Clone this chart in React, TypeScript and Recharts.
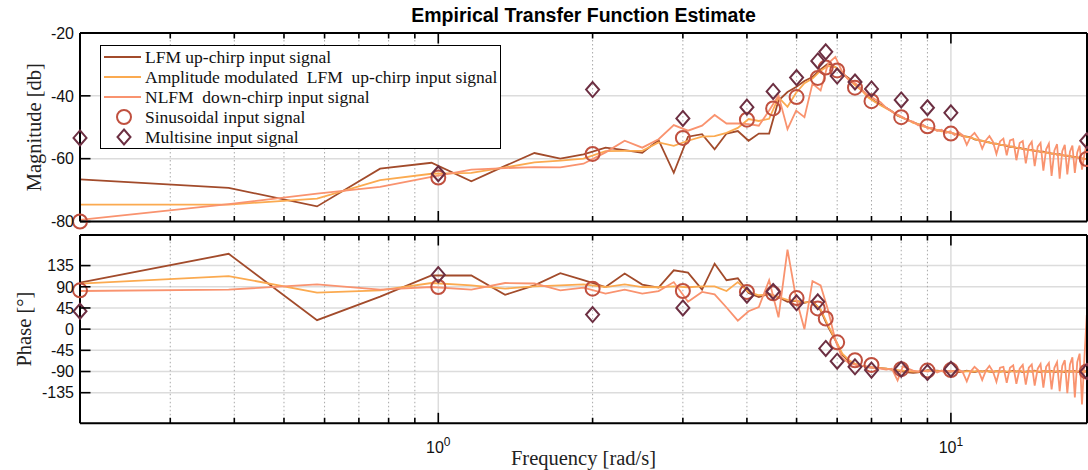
import React from "react";
import {
  ComposedChart,
  Line,
  Scatter,
  XAxis,
  YAxis,
  CartesianGrid,
  ReferenceLine,
  Legend,
} from "recharts";

// frequency grid of the chirp estimates [rad/s]
const freqGrid = [
  0.2, 0.39, 0.58, 0.77, 0.97, 1.16, 1.35, 1.54, 1.73, 1.92,
  2.12, 2.31, 2.5, 2.69, 2.88, 3.07, 3.27, 3.46, 3.65, 3.84,
  4.03, 4.22, 4.42, 4.61, 4.8, 4.99, 5.18, 5.37, 5.57, 5.76,
  5.95, 6.14, 6.33, 6.52, 6.72, 6.91, 7.1, 7.29, 7.48, 7.67,
  7.87, 8.06, 8.25, 8.44, 8.63, 8.82, 9.02, 9.21, 9.4, 9.59,
  9.78, 9.97, 10.17, 10.36, 10.55, 10.74, 10.93, 11.12, 11.32, 11.51,
  11.7, 11.89, 12.08, 12.27, 12.47, 12.66, 12.85, 13.04, 13.23, 13.42,
  13.62, 13.81, 14.0, 14.19, 14.38, 14.57, 14.77, 14.96, 15.15, 15.34,
  15.53, 15.72, 15.92, 16.11, 16.3, 16.49, 16.68, 16.87, 17.07, 17.26,
  17.45, 17.64, 17.83, 18.02, 18.22, 18.41,
];

// magnitude [dB]
const lfmMag = [
  -66.6, -69.3, -75.2, -63.2, -61.3, -67.2, -62.3, -58.2, -60.0, -58.6,
  -56.5, -57.3, -58.1, -54.1, -64.5, -53.0, -52.2, -57.0, -52.0, -51.2,
  -54.3, -52.0, -52.0, -41.5, -38.8, -37.2, -35.3, -34.0, -31.6, -29.7,
  -30.8, -32.9, -34.5, -36.4, -38.3, -40.4, -41.7, -42.8, -43.8, -44.9,
  -46.3, -47.0, -47.7, -48.4, -49.0, -49.5, -50.1, -50.5, -50.9, -51.1,
  -51.4, -51.7, -52.1, -52.3, -52.8, -53.0, -53.2, -53.9, -54.1, -54.3,
  -54.7, -54.8, -55.2, -55.2, -55.6, -55.7, -55.9, -56.2, -56.2, -56.6,
  -56.6, -56.9, -57.0, -57.3, -57.2, -57.5, -57.6, -57.8, -57.8, -58.1,
  -58.1, -58.4, -58.4, -58.7, -58.6, -58.9, -59.0, -59.1, -59.2, -59.4,
  -59.4, -59.6, -59.7, -59.9, -60.0, -60.2,
];
const amMag = [
  -74.6, -74.6, -72.7, -66.8, -64.8, -64.5, -62.8, -61.2, -60.6, -60.0,
  -57.6, -57.5, -57.5, -54.8, -55.9, -54.3, -53.0, -52.8, -51.8, -50.2,
  -47.4, -48.0, -47.3, -40.5, -43.5, -39.0, -36.0, -34.5, -32.0, -30.5,
  -30.8, -33.0, -34.8, -36.8, -38.5, -40.6, -41.9, -43.0, -44.0, -45.0,
  -46.2, -47.1, -47.6, -48.6, -49.0, -49.7, -50.0, -50.6, -50.8, -51.3,
  -51.3, -51.8, -52.0, -52.5, -52.7, -53.1, -53.3, -53.7, -54.2, -54.3,
  -54.6, -54.9, -55.1, -55.3, -55.5, -55.8, -55.8, -56.1, -56.3, -56.5,
  -56.7, -56.8, -57.1, -57.2, -57.4, -57.4, -57.7, -57.7, -58.0, -58.0,
  -58.3, -58.3, -58.5, -58.6, -58.8, -58.8, -59.1, -59.0, -59.3, -59.3,
  -59.6, -59.5, -59.8, -59.9, -60.1, -60.2,
];
const nlfmMag = [
  -79.5, -74.5, -71.1, -69.0, -65.8, -63.5, -63.0, -62.7, -62.8, -61.6,
  -58.0, -54.3, -56.5, -53.8, -49.3, -51.1, -49.5, -46.1, -48.8, -48.8,
  -49.0, -49.5, -44.7, -39.9, -50.6, -44.7, -46.8, -36.1, -38.3, -29.7,
  -27.6, -32.4, -35.1, -36.1, -38.3, -39.9, -41.0, -42.0, -43.8, -45.0,
  -46.0, -46.8, -48.0, -48.2, -49.4, -49.2, -50.4, -50.2, -51.2, -50.8,
  -51.8, -51.3, -52.5, -51.6, -52.6, -55.6, -53.0, -51.8, -53.6, -56.8,
  -54.2, -52.8, -54.6, -58.5, -54.5, -53.6, -58.9, -54.2, -53.8, -60.5,
  -55.0, -54.4, -61.5, -56.0, -54.6, -62.4, -56.2, -55.0, -63.8, -57.0,
  -55.2, -65.5, -57.4, -55.4, -66.4, -57.6, -55.6, -65.0, -57.8, -55.8,
  -64.5, -58.0, -55.8, -63.5, -58.6, -55.0,
];

// phase [deg]
const lfmPhase = [
  98.8, 160, 19, 69, 114, 114, 73, 93, 119, 104,
  89.5, 118, 94.6, 88.2, 125, 120, 84, 139, 104, 108,
  77, 68, 75, 68, 58, 60, 56, 60, 40, 5,
  -23, -55, -68, -75, -78, -81, -82, -83, -84, -86,
  -88, -90, -92, -93, -92, -89, -87, -88, -88, -89,
  -90, -90, -89, -91, -90, -88, -90, -91, -89, -90,
  -88, -90, -91, -89, -90, -89, -91, -90, -88, -90,
  -89, -91, -90, -89, -90, -88, -90, -91, -89, -90,
  -90, -89, -91, -90, -89, -90, -91, -89, -90, -90,
  -89, -91, -90, -89, -90, -90,
];
const amPhase = [
  96.7, 112.8, 77.7, 82.5, 98, 93, 86, 91, 93, 95,
  89.5, 95, 89.5, 89, 91, 89, 91, 91, 81, 100,
  79, 72, 74, 68, 62, 60, 57, 58, 42, 8,
  -22, -52, -66, -74, -78, -80, -82, -83, -84, -86,
  -87, -88, -89, -90, -90, -89, -88, -88, -89, -89,
  -90, -89, -90, -89, -91, -89, -90, -90, -88, -90,
  -89, -90, -90, -89, -91, -89, -90, -89, -90, -90,
  -88, -90, -91, -89, -90, -89, -90, -90, -89, -91,
  -89, -90, -90, -89, -90, -91, -89, -90, -90, -89,
  -90, -90, -89, -91, -90, -90,
];
const nlfmPhase = [
  81, 84, 95, 84, 89.5, 84, 98, 97, 82.5, 88,
  75.5, 84, 75.5, 81, 100, 58, 79, 74, 46, 18,
  38, 47, 104, 25, 169, 65, 0, 102, 93, 40,
  -23, -62, -72, -76, -78, -80, -82, -84, -86, -84,
  -109, -79, -84, -88, -90, -88, -90, -86, -92, -88,
  -91, -88, -90, -86, -92, -111, -90, -80, -88, -108,
  -88, -78, -90, -112, -82, -80, -114, -82, -77, -116,
  -84, -76, -118, -82, -75, -120, -84, -74, -124, -80,
  -72, -128, -82, -70, -132, -78, -66, -136, -75, -60,
  -145, -70, -52, -160, -60, 30,
];

// discrete excitation tests
const testFreq = [0.2, 1, 2, 3, 4, 4.5, 5, 5.5, 5.7, 6, 6.5, 7, 8, 9, 10, 18.41];
const sineMag = [-80, -66, -58.5, -53.4, -47.6, -44.0, -40.4, -34.3, -31.0, -31.9, -37.4, -41.7, -46.8, -49.7, -52.0, -60.1];
const sinePhase = [82.5, 89.5, 86, 81, 79, 76, 66, 44, 22.6, -28, -66, -76, -85, -88, -87, -90];
const multiMag = [-53.4, -64.8, -38.0, -47.2, -43.6, -38.6, -34.2, -28.9, -26.0, -33.7, -35.6, -37.8, -41.3, -43.8, -45.4, -54.3];
const multiPhase = [38, 115.8, 31, 45, 72, 80, 56, 58, -41, -68, -80, -87, -85, -92, -85, -90];

const magTicks = [-80, -60, -40, -20];
const phaseTicks = [-135, -90, -45, 0, 45, 90, 135];
const majorFreq = [1, 10];
const minorFreq = [0.3, 0.4, 0.5, 0.6, 0.7, 0.8, 0.9, 2, 3, 4, 5, 6, 7, 8, 9];
const freqTicks = [...minorFreq, ...majorFreq].sort((a, b) => a - b);

const FREQ_DOMAIN = [0.2, 18.43];
const SERIF = '"Liberation Serif", "Times New Roman", serif';
const SANS = '"Liberation Sans", Arial, sans-serif';

const SERIES = [
  { key: "lfm", name: "LFM up-chirp input signal", color: "#A24B2B", kind: "line" },
  { key: "am", name: "Amplitude modulated  LFM  up-chirp input signal", color: "#FBAA50", kind: "line" },
  { key: "nlfm", name: "NLFM  down-chirp input signal", color: "#F9936F", kind: "line" },
  { key: "sine", name: "Sinusoidal input signal", color: "#C0503F", kind: "circle" },
  { key: "multi", name: "Multisine input signal", color: "#6C2F42", kind: "diamond" },
];
const colorOf = (k: string) => SERIES.find((s) => s.key === k)!.color;

const magRows = freqGrid.map((f, i) => ({ f, lfm: lfmMag[i], am: amMag[i], nlfm: nlfmMag[i] }));
const phaseRows = freqGrid.map((f, i) => ({ f, lfm: lfmPhase[i], am: amPhase[i], nlfm: nlfmPhase[i] }));
const sineMagRows = testFreq.map((f, i) => ({ f, v: sineMag[i] }));
const sinePhaseRows = testFreq.map((f, i) => ({ f, v: sinePhase[i] }));
const multiMagRows = testFreq.map((f, i) => ({ f, v: multiMag[i] }));
const multiPhaseRows = testFreq.map((f, i) => ({ f, v: multiPhase[i] }));

const AXIS_LINE = { stroke: "#000", strokeWidth: 2 };

// ticks point inward, MATLAB style
function LeftTick({ x, y, payload }: any) {
  return (
    <g>
      <line x1={x} x2={x + 10.5} y1={y} y2={y} stroke="#000" strokeWidth={1.6} />
      <text x={x - 6} y={y} dy="0.36em" textAnchor="end" fontFamily={SANS} fontSize={16} fill="#111">
        {payload.value}
      </text>
    </g>
  );
}
function RightTick({ x, y }: any) {
  return <line x1={x} x2={x - 10.5} y1={y} y2={y} stroke="#000" strokeWidth={1.6} />;
}
function TopTick({ x, y, payload }: any) {
  const len = majorFreq.includes(payload.value) ? 10.5 : 5.5;
  return <line x1={x} x2={x} y1={y} y2={y + len} stroke="#000" strokeWidth={1.6} />;
}
function BottomTick({ x, y, payload, labels }: any) {
  const major = majorFreq.includes(payload.value);
  const len = major ? 10.5 : 5.5;
  return (
    <g>
      <line x1={x} x2={x} y1={y} y2={y - len} stroke="#000" strokeWidth={1.6} />
      {labels && major && (
        <text x={x} y={y + 30} textAnchor="middle" fontFamily={SANS} fontSize={16} fill="#111">
          10
          <tspan dy={-7.5} fontSize={12}>
            {Math.round(Math.log10(payload.value))}
          </tspan>
        </text>
      )}
    </g>
  );
}

function YTitle({ viewBox, title, shift }: any) {
  const cx = viewBox.x + shift;
  const cy = viewBox.y + viewBox.height / 2;
  return (
    <text
      x={cx}
      y={cy}
      transform={`rotate(-90 ${cx} ${cy})`}
      textAnchor="middle"
      dominantBaseline="central"
      fontFamily={SERIF}
      fontSize={20.5}
      fill="#222"
    >
      {title}
    </text>
  );
}
function XTitle({ viewBox }: any) {
  return (
    <text x={viewBox.x + viewBox.width / 2} y={viewBox.y + 42} textAnchor="middle" fontFamily={SERIF} fontSize={20.5} fill="#222">
      Frequency [rad/s]
    </text>
  );
}

const CircleMark = (p: any) => (
  <circle cx={p.cx} cy={p.cy} r={7} fill="none" stroke={colorOf("sine")} strokeWidth={2} />
);
const DiamondMark = (p: any) => (
  <path
    d={`M${p.cx},${p.cy - 7.5}L${p.cx + 6.5},${p.cy}L${p.cx},${p.cy + 7.5}L${p.cx - 6.5},${p.cy}Z`}
    fill="none"
    stroke={colorOf("multi")}
    strokeWidth={2}
  />
);

function LegendBox() {
  return (
    <div
      style={{
        width: 401,
        boxSizing: "border-box",
        border: "1.5px solid #000",
        background: "#fff",
        padding: "1px 0",
        fontFamily: SERIF,
        fontSize: 17.5,
        color: "#111",
      }}
    >
      {SERIES.map((s) => (
        <div key={s.key} style={{ display: "flex", alignItems: "center", height: 20 }}>
          <svg width={44} height={20} style={{ flex: "none" }}>
            {s.kind === "line" && <line x1={3} x2={40} y1={10} y2={10} stroke={s.color} strokeWidth={2} />}
            {s.kind === "circle" && <circle cx={23} cy={10} r={7} fill="none" stroke={s.color} strokeWidth={2} />}
            {s.kind === "diamond" && (
              <path d="M23,2.5L29.5,10L23,17.5L16.5,10Z" fill="none" stroke={s.color} strokeWidth={2} />
            )}
          </svg>
          <span style={{ whiteSpace: "pre", lineHeight: "20px" }}>{s.name}</span>
        </div>
      ))}
    </div>
  );
}

function Panel({ rows, sineRows, multiRows, domain, yTicks, title, shift, height, top, bottom, labels, legend }: any) {
  return (
    <ComposedChart width={1088} height={height} data={rows} margin={{ top, right: 0, bottom: 0, left: 0 }}>
      <CartesianGrid vertical={false} stroke="#dcdcdc" strokeWidth={1.5} />
      {minorFreq.map((v) => (
        <ReferenceLine key={v} x={v} stroke="#a8a8a8" strokeWidth={1} strokeDasharray="1.5 2.5" />
      ))}
      {majorFreq.map((v) => (
        <ReferenceLine key={v} x={v} stroke="#dcdcdc" strokeWidth={1.5} />
      ))}
      <XAxis
        dataKey="f"
        type="number"
        scale="log"
        domain={FREQ_DOMAIN}
        ticks={freqTicks}
        interval={0}
        height={bottom}
        tickSize={0}
        tickMargin={0}
        tickLine={false}
        axisLine={AXIS_LINE}
        tick={(p: any) => <BottomTick {...p} labels={labels} />}
        label={labels ? <XTitle /> : undefined}
      />
      <XAxis
        xAxisId="top"
        orientation="top"
        dataKey="f"
        type="number"
        scale="log"
        domain={FREQ_DOMAIN}
        ticks={freqTicks}
        interval={0}
        height={1}
        tickSize={0}
        tickMargin={0}
        tickLine={false}
        axisLine={AXIS_LINE}
        tick={(p: any) => <TopTick {...p} />}
      />
      <YAxis
        type="number"
        domain={domain}
        ticks={yTicks}
        interval={0}
        width={80}
        tickSize={0}
        tickMargin={0}
        tickLine={false}
        axisLine={AXIS_LINE}
        tick={(p: any) => <LeftTick {...p} />}
        label={<YTitle title={title} shift={shift} />}
      />
      <YAxis
        yAxisId="right"
        orientation="right"
        type="number"
        domain={domain}
        ticks={yTicks}
        interval={0}
        width={1}
        tickSize={0}
        tickMargin={0}
        tickLine={false}
        axisLine={AXIS_LINE}
        tick={(p: any) => <RightTick {...p} />}
      />
      {SERIES.filter((s) => s.kind === "line").map((s) => (
        <Line
          key={s.key}
          dataKey={s.key}
          name={s.name}
          type="linear"
          stroke={s.color}
          strokeWidth={1.8}
          dot={false}
          activeDot={false}
          isAnimationActive={false}
        />
      ))}
      <Scatter data={sineRows} dataKey="v" name="Sinusoidal input signal" shape={CircleMark} isAnimationActive={false} />
      <Scatter data={multiRows} dataKey="v" name="Multisine input signal" shape={DiamondMark} isAnimationActive={false} />
      {legend && (
        <Legend
          layout="vertical"
          align="center"
          verticalAlign="middle"
          content={<LegendBox />}
          wrapperStyle={{ left: 100, top: 45, width: 401, height: 104 }}
        />
      )}
    </ComposedChart>
  );
}

export default function App() {
  return (
    <div style={{ position: "absolute", left: 0, top: 0, width: 1088, height: 470, background: "#fff", overflow: "hidden" }}>
      <div style={{ position: "absolute", left: 0, top: 0 }}>
        <Panel
          rows={magRows}
          sineRows={sineMagRows}
          multiRows={multiMagRows}
          domain={[-80, -20]}
          yTicks={magTicks}
          title="Magnitude [db]"
          shift={33.5}
          height={232}
          top={32}
          bottom={10.5}
          labels={false}
          legend
        />
      </div>
      <div style={{ position: "absolute", left: 0, top: 232 }}>
        <Panel
          rows={phaseRows}
          sineRows={sinePhaseRows}
          multiRows={multiPhaseRows}
          domain={[-200, 200]}
          yTicks={phaseTicks}
          title="Phase [°]"
          shift={24}
          height={238}
          top={2}
          bottom={46.7}
          labels
          legend={false}
        />
      </div>
      <div
        style={{
          position: "absolute",
          left: 80,
          width: 1007,
          top: 4,
          textAlign: "center",
          fontFamily: SANS,
          fontWeight: "bold",
          fontSize: 19.5,
          color: "#000",
        }}
      >
        Empirical Transfer Function Estimate
      </div>
    </div>
  );
}
